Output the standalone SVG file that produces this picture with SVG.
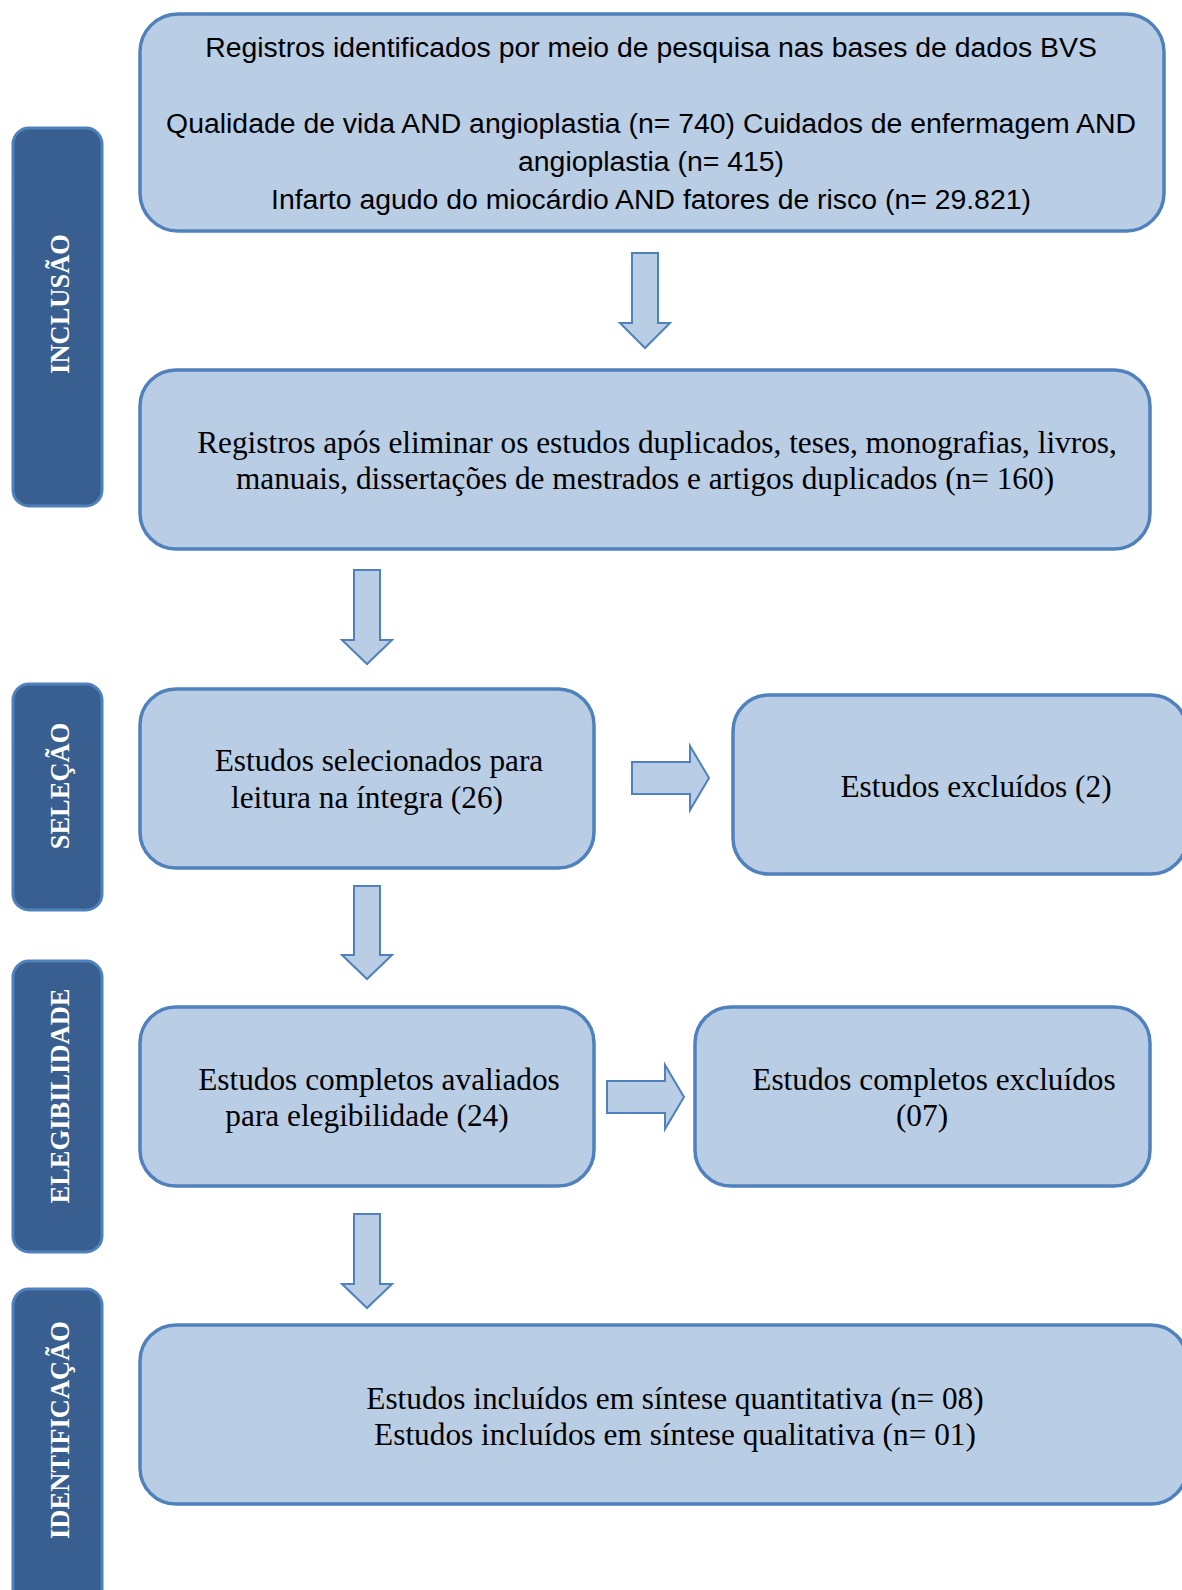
<svg xmlns="http://www.w3.org/2000/svg" width="1182" height="1590" viewBox="0 0 1182 1590">
<style>
.box{fill:#b9cde5;stroke:#4f81bd;stroke-width:3.5}
.lab{fill:#385f8f;stroke:#4f81bd;stroke-width:3}
.arr{fill:#b9cde5;stroke:#4f81bd;stroke-width:2}
.sans{font-family:"Liberation Sans","Noto Sans",sans-serif;font-size:28.4px;fill:#000}
.serif{font-family:"Liberation Serif","DejaVu Serif",serif;font-size:31.3px;fill:#000}
.lt{font-family:"Liberation Serif","DejaVu Serif",serif;font-size:26.5px;font-weight:bold;fill:#fff}
</style>
<rect width="1182" height="1590" fill="#fff"/>
<g id="lab-inclusao">
<rect class="lab" x="13" y="128" width="89" height="378" rx="16"/>
<text class="lt" transform="translate(69,304) rotate(-90)" text-anchor="middle">INCLUSÃO</text>
</g>
<g id="lab-selecao">
<rect class="lab" x="13" y="684" width="89" height="226" rx="16"/>
<text class="lt" transform="translate(69,786) rotate(-90)" text-anchor="middle">SELEÇÃO</text>
</g>
<g id="lab-elegibilidade">
<rect class="lab" x="13" y="961" width="89" height="291" rx="16"/>
<text class="lt" transform="translate(69,1096) rotate(-90)" text-anchor="middle">ELEGIBILIDADE</text>
</g>
<g id="lab-identificacao">
<rect class="lab" x="13" y="1289" width="89" height="320" rx="16"/>
<text class="lt" transform="translate(69,1430) rotate(-90)" text-anchor="middle">IDENTIFICAÇÃO</text>
</g>
<g id="n1">
<rect class="box" x="140" y="14" width="1024" height="217" rx="38"/>
<text class="sans" text-anchor="middle" x="651" y="57">Registros identificados por meio de pesquisa nas bases de dados BVS</text>
<text class="sans" text-anchor="middle" x="651" y="133">Qualidade de vida AND angioplastia (n= 740) Cuidados de enfermagem AND</text>
<text class="sans" text-anchor="middle" x="651" y="171">angioplastia (n= 415)</text>
<text class="sans" text-anchor="middle" x="651" y="209">Infarto agudo do miocárdio AND fatores de risco (n= 29.821)</text>
</g>
<g id="n2">
<rect class="box" x="140" y="370" width="1010" height="179" rx="36"/>
<text class="serif" text-anchor="middle" x="657" y="453">Registros após eliminar os estudos duplicados, teses, monografias, livros,</text>
<text class="serif" text-anchor="middle" x="645" y="489">manuais, dissertações de mestrados e artigos duplicados (n= 160)</text>
</g>
<g id="n3">
<rect class="box" x="140" y="689" width="454" height="179" rx="36"/>
<text class="serif" text-anchor="middle" x="379" y="771">Estudos selecionados para</text>
<text class="serif" text-anchor="middle" x="367" y="808">leitura na íntegra (26)</text>
</g>
<g id="n4">
<rect class="box" x="733" y="695" width="454" height="179" rx="36"/>
<text class="serif" text-anchor="middle" x="976" y="797">Estudos excluídos (2)</text>
</g>
<g id="n5">
<rect class="box" x="140" y="1007" width="454" height="179" rx="36"/>
<text class="serif" text-anchor="middle" x="379" y="1090">Estudos completos avaliados</text>
<text class="serif" text-anchor="middle" x="367" y="1126">para elegibilidade (24)</text>
</g>
<g id="n6">
<rect class="box" x="695" y="1007" width="455" height="179" rx="36"/>
<text class="serif" text-anchor="middle" x="934" y="1090">Estudos completos excluídos</text>
<text class="serif" text-anchor="middle" x="922" y="1126">(07)</text>
</g>
<g id="n7">
<rect class="box" x="140" y="1325" width="1047" height="179" rx="36"/>
<text class="serif" text-anchor="middle" x="675" y="1409">Estudos incluídos em síntese quantitativa (n= 08)</text>
<text class="serif" text-anchor="middle" x="675" y="1445">Estudos incluídos em síntese qualitativa (n= 01)</text>
</g>
<g id="connectors">
<polygon class="arr" points="632,253 658,253 658,323 670,323 645,348 620,323 632,323"/>
<polygon class="arr" points="354,570 380,570 380,640 392,640 367,664 342,640 354,640"/>
<polygon class="arr" points="354,886 380,886 380,955 392,955 367,979 342,955 354,955"/>
<polygon class="arr" points="354,1214 380,1214 380,1284 392,1284 367,1308 342,1284 354,1284"/>
<polygon class="arr" points="632,762 690,762 690,746 709,778 690,810 690,794 632,794"/>
<polygon class="arr" points="607,1081 665,1081 665,1065 684,1097 665,1129 665,1113 607,1113"/>
</g>
</svg>
